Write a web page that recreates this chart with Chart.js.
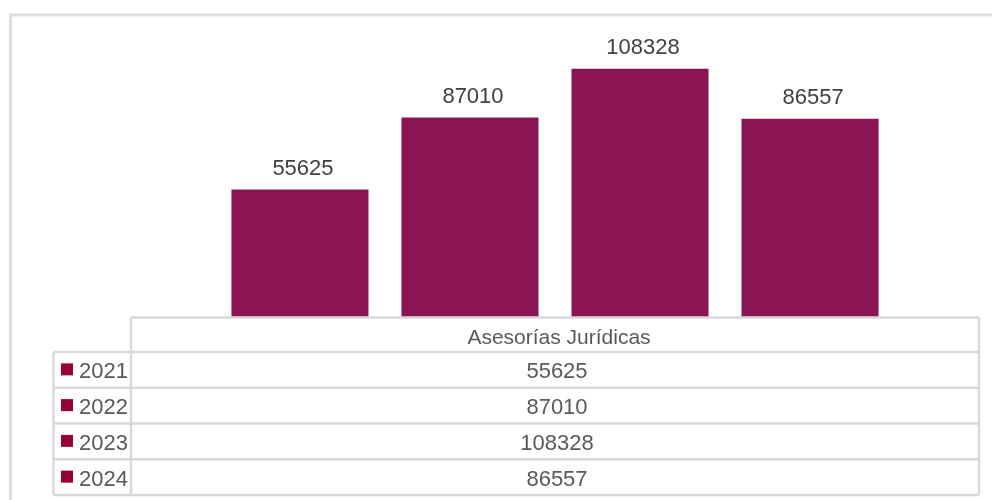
<!DOCTYPE html>
<html>
<head>
<meta charset="utf-8">
<script src="https://cdn.jsdelivr.net/npm/chart.js@4/dist/chart.umd.min.js"></script>
<style>
  html, body { margin: 0; padding: 0; background: #ffffff; }
  #wrap { width: 992px; height: 500px; position: relative; }
</style>
</head>
<body>
<div id="wrap"><canvas id="chart" width="992" height="500"></canvas></div>
<script>
// Categories and series
const categories = ['Asesorías Jurídicas'];
const seriesYears = ['2021', '2022', '2023', '2024'];
const seriesValues = [55625, 87010, 108328, 86557];

const BAR_COLOR = '#8B1552';
const KEY_COLOR = '#990033';
const GRID_COLOR = '#d9d9d9';
const FONT = '"Liberation Sans", Arial, Helvetica, sans-serif';

// Value labels above bars and the data table underneath the plot
const dataTablePlugin = {
  id: 'dataTable',
  beforeDraw(chart) {
    const ctx = chart.ctx;
    ctx.save();
    ctx.strokeStyle = '#dedede';
    ctx.lineWidth = 3;
    ctx.beginPath();
    ctx.moveTo(10.5, 500);
    ctx.lineTo(10.5, 15);
    ctx.lineTo(992, 15);
    ctx.stroke();
    ctx.restore();
  },
  afterDatasetsDraw(chart) {
    const ctx = chart.ctx;
    const area = chart.chartArea;
    ctx.save();

    // value labels over each bar
    ctx.font = '22px ' + FONT;
    ctx.fillStyle = '#404040';
    ctx.textAlign = 'center';
    ctx.textBaseline = 'alphabetic';
    chart.data.datasets.forEach((ds, i) => {
      const meta = chart.getDatasetMeta(i);
      meta.data.forEach((bar, j) => {
        ctx.fillText(String(ds.data[j]), bar.x + 3, bar.y - 15);
      });
    });

    // table geometry
    const xKey = 53.5;
    const xLeft = area.left;
    const xRight = area.right;
    const yTop = area.bottom + 0.5;
    const yHead = 352;
    const rowH = (495 - yHead) / seriesYears.length;
    const rowY = seriesYears.map((_, i) => yHead + i * rowH);
    const yBottom = yHead + seriesYears.length * rowH;

    ctx.strokeStyle = GRID_COLOR;
    ctx.lineWidth = 2.5;
    ctx.beginPath();
    // header row (data column only)
    ctx.moveTo(xLeft, yTop); ctx.lineTo(xRight, yTop);
    // horizontal row lines
    rowY.concat([yBottom]).forEach(y => { ctx.moveTo(xKey, y); ctx.lineTo(xRight, y); });
    // vertical lines
    ctx.moveTo(xKey, yHead); ctx.lineTo(xKey, yBottom);
    ctx.moveTo(xLeft, yTop); ctx.lineTo(xLeft, yBottom);
    ctx.moveTo(xRight, yTop); ctx.lineTo(xRight, yBottom);
    ctx.stroke();

    // header text
    ctx.font = '21px ' + FONT;
    ctx.fillStyle = '#595959';
    ctx.textAlign = 'center';
    const xMid = (xLeft + xRight) / 2 + 2;
    ctx.fillText(categories[0], xMid + 2, (yTop + yHead) / 2 + 9);

    // series rows: key, year, value
    ctx.font = '22px ' + FONT;
    chart.data.datasets.forEach((ds, i) => {
      const cy = rowY[i] + rowH / 2;
      ctx.fillStyle = KEY_COLOR;
      ctx.fillRect(61, cy - 6.5, 12, 12);
      ctx.fillStyle = '#595959';
      ctx.textAlign = 'left';
      ctx.fillText(ds.label, 79, cy + 8.5);
      ctx.textAlign = 'center';
      ctx.fillText(String(ds.data[0]), xMid, cy + 8.5);
    });

    ctx.restore();
  }
};

const datasets = seriesYears.map((year, i) => ({
  label: year,
  data: [seriesValues[i]],
  backgroundColor: BAR_COLOR,
  borderWidth: 0,
  categoryPercentage: 0.802,
  barPercentage: 0.806
}));

new Chart(document.getElementById('chart'), {
  type: 'bar',
  data: { labels: categories, datasets },
  options: {
    responsive: false,
    devicePixelRatio: 1,
    animation: false,
    layout: { padding: { left: 131, right: 13, top: 42, bottom: 183 } },
    plugins: { legend: { display: false }, tooltip: { enabled: false } },
    scales: {
      x: { display: false },
      y: { display: false, min: 0, max: 120000 }
    }
  },
  plugins: [dataTablePlugin]
});
</script>
</body>
</html>
